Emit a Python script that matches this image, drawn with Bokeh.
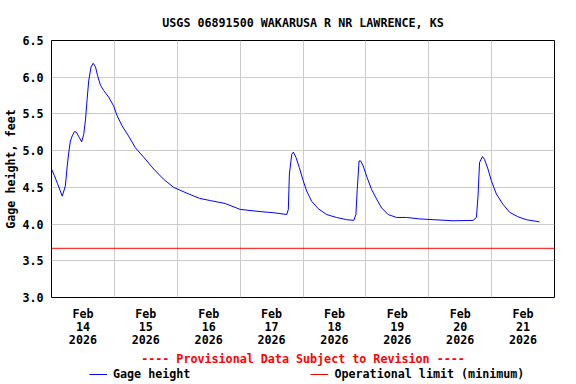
from datetime import datetime, timedelta
from bokeh.plotting import figure
from bokeh.layouts import column
from bokeh.models import (FixedTicker, DatetimeTickFormatter, PrintfTickFormatter,
                          Range1d, Legend, LegendItem, Title)
from bokeh.embed import file_html
from bokeh.resources import INLINE

# ---- data ----
title_text = "USGS 06891500 WAKARUSA R NR LAWRENCE, KS"
y_label = "Gage height, feet"
provisional_text = "---- Provisional Data Subject to Revision ----"
series_name = "Gage height"
limit_name = "Operational limit (minimum)"

start_time = datetime(2026, 2, 14, 0, 0)
end_time = datetime(2026, 2, 22, 0, 0)
tick_days = [14, 15, 16, 17, 18, 19, 20, 21]

# hours after 2026-02-14 00:00
hours = [0.0, 1.1, 2.3, 4.1, 5.3, 6.0, 6.6, 7.2, 7.9, 8.8, 9.5, 10.6, 11.5, 12.3,
         13.0, 13.6, 14.2, 15.1, 15.9, 16.8, 17.6, 18.7, 19.9, 21.8, 23.7, 25.0,
         26.9, 29.4, 32.0, 35.2, 39.0, 42.8, 46.6, 51.7, 56.5, 60.6, 66.3, 72.0,
         79.6, 84.7, 89.8, 90.4, 90.8, 91.7, 92.3, 93.3, 94.6, 95.9, 97.4, 99.3,
         101.8, 105.0, 108.8, 112.6, 115.4, 116.2, 116.7, 117.4, 118.0, 119.0,
         120.5, 122.2, 124.1, 126.0, 128.5, 131.7, 135.5, 140.6, 145.6, 153.3,
         160.9, 162.2, 162.8, 163.4, 164.5, 165.3, 166.6, 167.9, 169.8, 172.3,
         174.9, 178.0, 181.2, 186.3]
gage = [4.75, 4.66, 4.55, 4.38, 4.52, 4.79, 4.98, 5.13, 5.20, 5.26, 5.25, 5.18, 5.12, 5.22,
        5.43, 5.70, 5.95, 6.14, 6.19, 6.14, 6.02, 5.89, 5.82, 5.73, 5.61, 5.48,
        5.34, 5.20, 5.04, 4.91, 4.75, 4.61, 4.50, 4.42, 4.35, 4.32, 4.28, 4.20,
        4.17, 4.155, 4.13, 4.20, 4.68, 4.95, 4.98, 4.91, 4.77, 4.61, 4.45, 4.31,
        4.21, 4.13, 4.09, 4.06, 4.05, 4.13, 4.47, 4.86, 4.86, 4.79,
        4.63, 4.47, 4.34, 4.22, 4.13, 4.09, 4.09, 4.07, 4.06, 4.045,
        4.05, 4.09, 4.38, 4.84, 4.92, 4.88, 4.75, 4.59, 4.41, 4.27,
        4.16, 4.10, 4.06, 4.03]
op_limit = 3.67
y_ticks = [3.0, 3.5, 4.0, 4.5, 5.0, 5.5, 6.0, 6.5]

# ---- build ----
FONT = "DejaVu Sans Mono"
FS = "11.7px"
BLUE = "#0000ff"
RED = "#ff0000"

times = [start_time + timedelta(hours=h) for h in hours]

p = figure(width=576, height=366, x_axis_type="datetime", output_backend="svg",
           toolbar_location=None,
           x_range=Range1d(start_time, end_time), y_range=Range1d(y_ticks[0], y_ticks[-1]),
           min_border_left=51, min_border_right=22, min_border_top=40, min_border_bottom=68)

p.outline_line_color = "black"
p.outline_line_width = 1
p.background_fill_color = "white"
p.border_fill_color = "white"

p.line(times, gage, line_color=BLUE, line_width=1)
p.line([start_time, end_time], [op_limit, op_limit], line_color=RED, line_width=1)

def ms(dt):
    return (dt - datetime(1970, 1, 1)).total_seconds() * 1000.0

noon_ticks = [ms(datetime(2026, 2, d, 12)) for d in tick_days]
midnight_ticks = [ms(datetime(2026, 2, d, 0)) for d in tick_days] + [ms(end_time)]

p.xaxis.ticker = FixedTicker(ticks=noon_ticks)
fmt = "%b\n%d\n%Y"
p.xaxis.formatter = DatetimeTickFormatter(milliseconds=fmt, seconds=fmt, minsec=fmt,
                                          minutes=fmt, hourmin=fmt, hours=fmt, days=fmt,
                                          months=fmt, years=fmt, context=None)
p.xgrid.ticker = FixedTicker(ticks=midnight_ticks)
p.yaxis.ticker = FixedTicker(ticks=y_ticks)
p.yaxis.formatter = PrintfTickFormatter(format="%.1f")
p.ygrid.ticker = FixedTicker(ticks=y_ticks)

for g in (p.xgrid, p.ygrid):
    g.grid_line_color = "#cccccc"
    g.grid_line_width = 1

for ax in (p.xaxis, p.yaxis):
    ax.axis_line_color = None
    ax.major_tick_line_color = None
    ax.minor_tick_line_color = None
    ax.major_tick_out = 0
    ax.major_tick_in = 0
    ax.minor_tick_out = 0
    ax.major_label_text_font = FONT
    ax.major_label_text_font_size = FS
    ax.major_label_text_font_style = "bold"
    ax.major_label_text_color = "black"

p.xaxis.major_label_standoff = 9
p.xaxis.major_label_text_line_height = 0.93
p.yaxis.major_label_standoff = 8
p.yaxis.axis_label = y_label
p.yaxis.axis_label_text_font = FONT
p.yaxis.axis_label_text_font_size = FS
p.yaxis.axis_label_text_font_style = "bold"
p.yaxis.axis_label_text_color = "black"
p.yaxis.axis_label_standoff = 1

p.title.text = title_text
p.title.align = "center"
p.title.text_font = FONT
p.title.text_font_size = FS
p.title.text_font_style = "bold"
p.title.text_color = "black"
p.title.standoff = 21

prov = Title(text=provisional_text, align="center", text_font=FONT, text_font_size=FS,
             text_font_style="bold", text_color=RED, standoff=1, offset=0)
p.add_layout(prov, "below")

# legend strip underneath the plot (its frame lines up with the plot frame)
p2 = figure(width=576, height=18, output_backend="svg", toolbar_location=None,
            x_range=Range1d(0, 1), y_range=Range1d(0, 1),
            x_axis_location=None, y_axis_location=None,
            min_border=0, min_border_left=0, min_border_right=0,
            min_border_top=0, min_border_bottom=0)
p2.grid.visible = False
p2.outline_line_color = None
p2.background_fill_color = "white"
p2.border_fill_color = "white"
nan = float("nan")
l_gage = p2.line([nan, nan], [nan, nan], line_color=BLUE, line_width=1)
l_lim = p2.line([nan, nan], [nan, nan], line_color=RED, line_width=1)

legend = Legend(items=[LegendItem(label=series_name, renderers=[l_gage]),
                       LegendItem(label=limit_name, renderers=[l_lim])],
                location=(38, 3), orientation="horizontal",
                padding=0, margin=0, spacing=120, glyph_width=18, glyph_height=12,
                label_standoff=6, border_line_color=None, background_fill_alpha=0,
                label_text_font=FONT, label_text_font_size=FS,
                label_text_font_style="bold", label_text_color="black",
                label_height=12)
p2.add_layout(legend, "center")

open("out.html", "w").write(file_html(column(p, p2, spacing=0), INLINE))
